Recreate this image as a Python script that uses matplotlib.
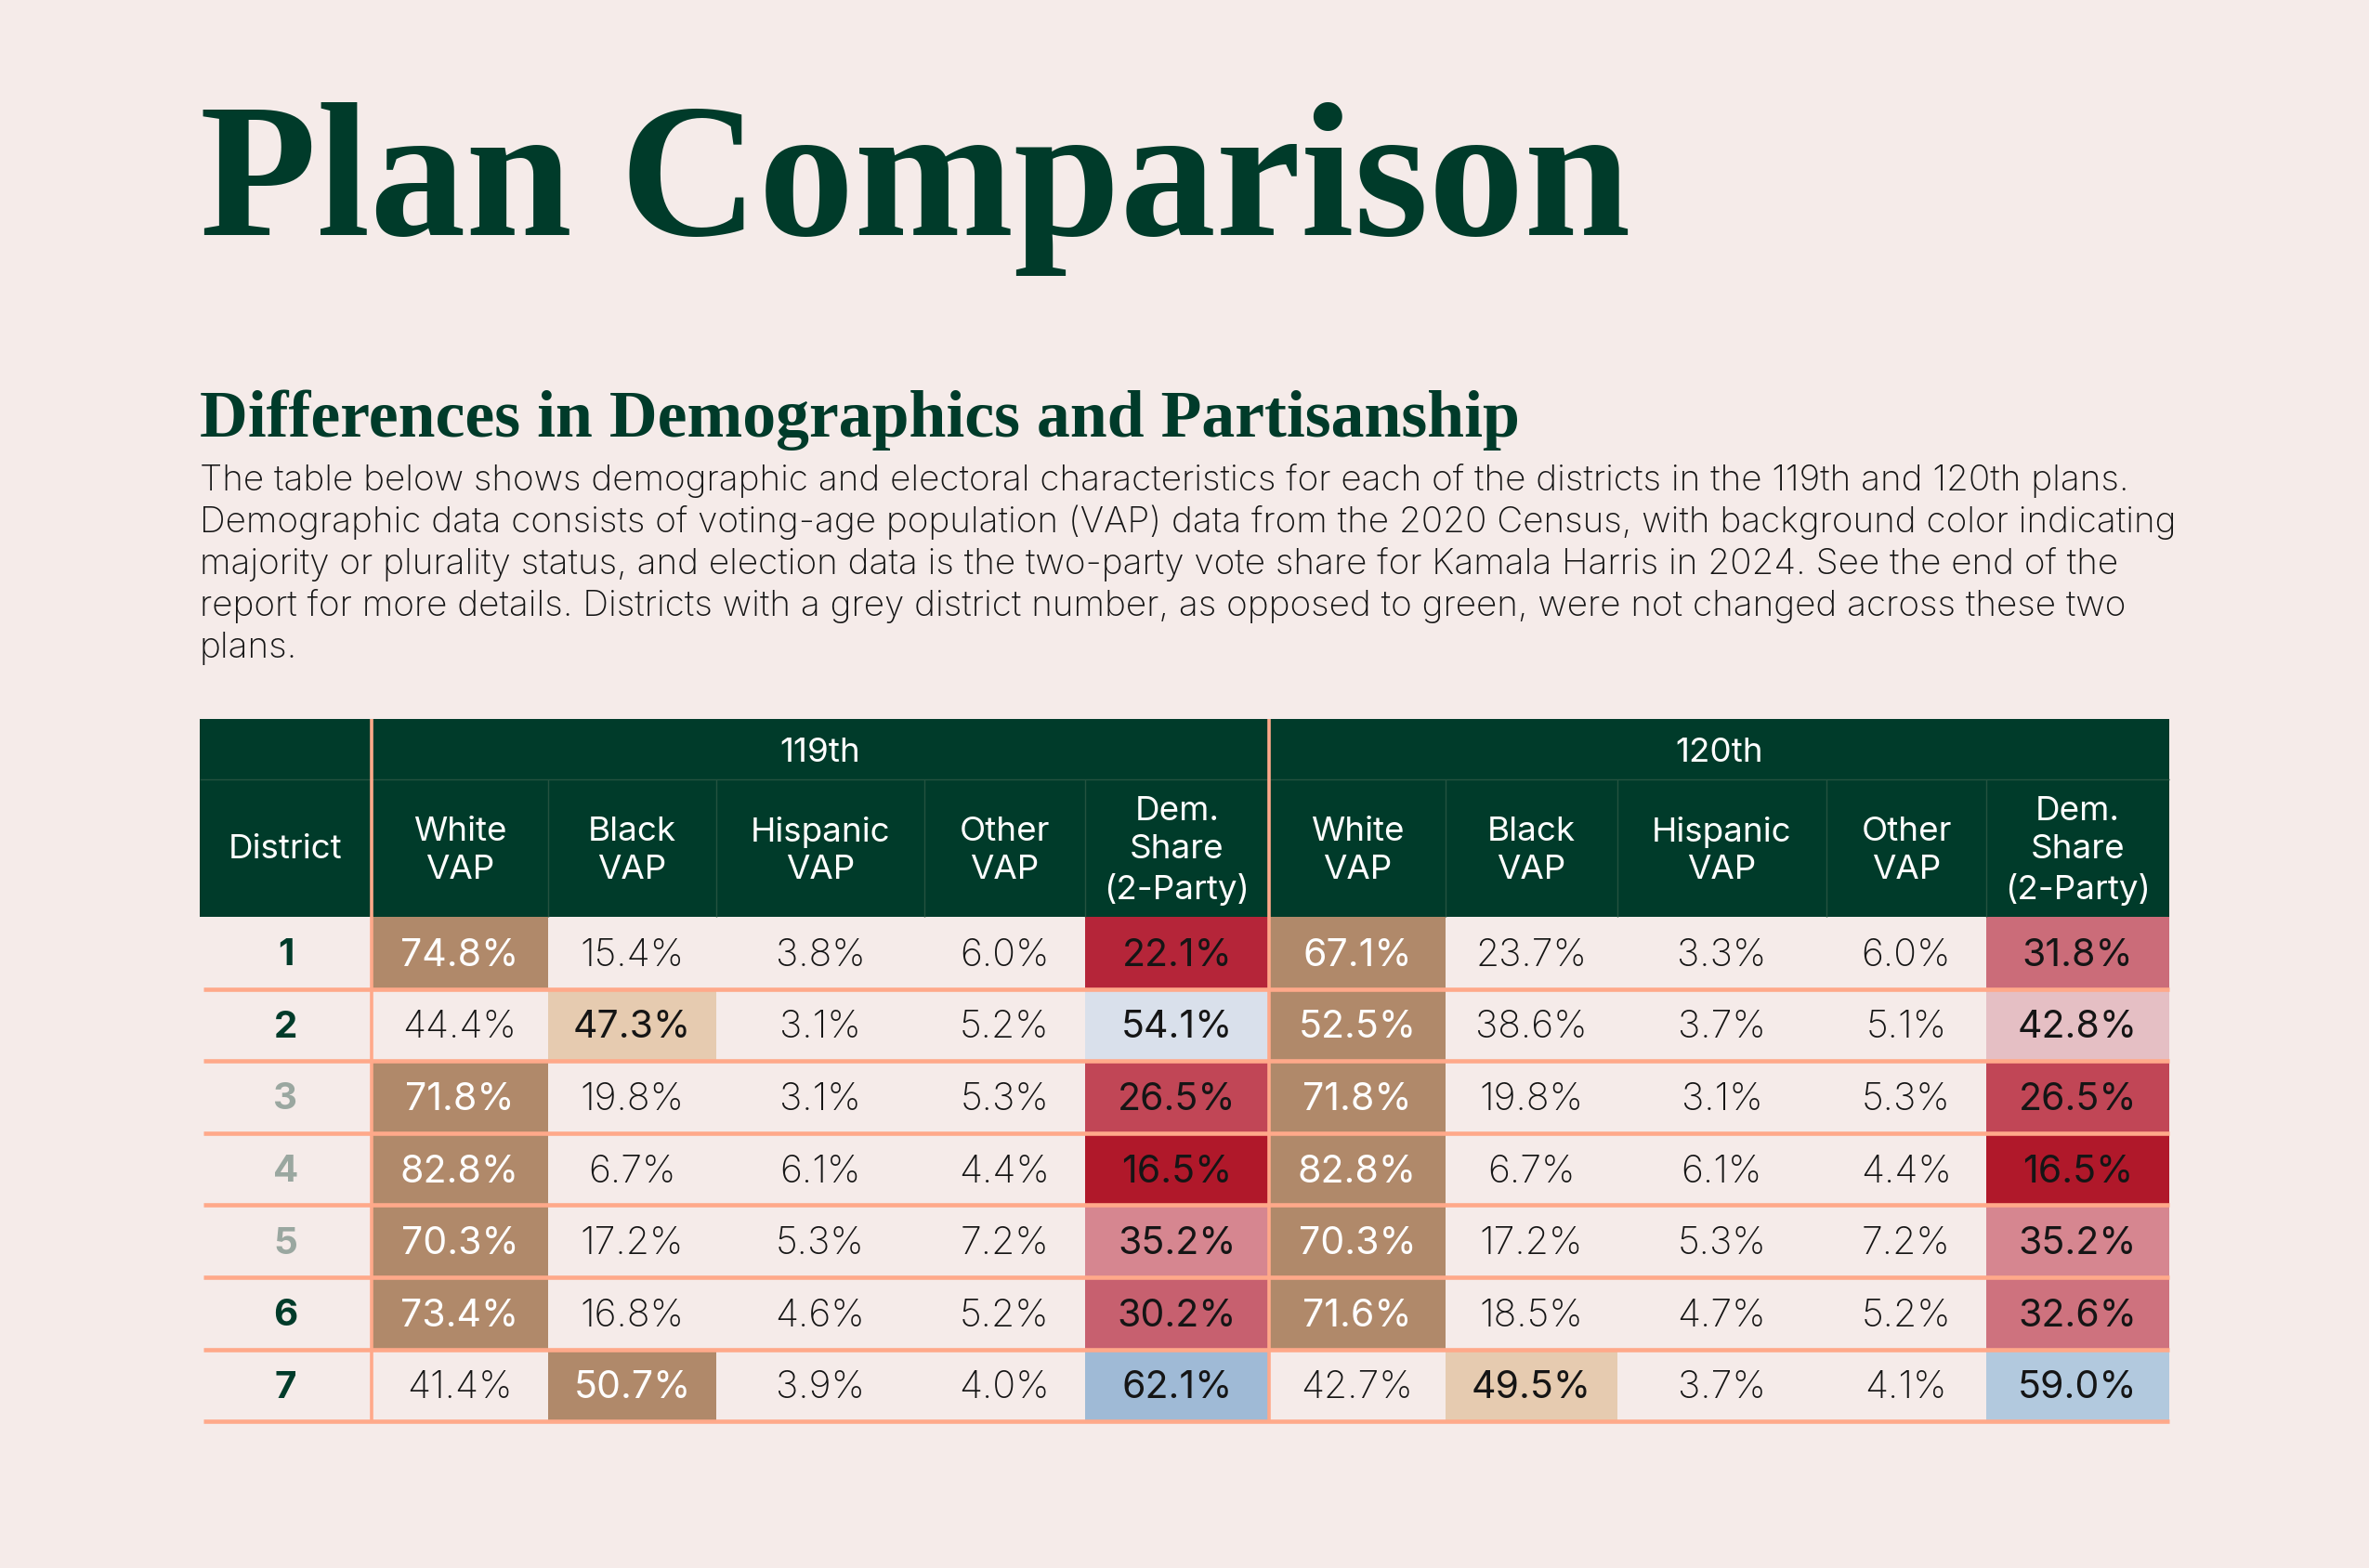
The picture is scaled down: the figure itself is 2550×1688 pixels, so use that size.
import matplotlib
matplotlib.use("Agg")
import matplotlib.pyplot as plt
from matplotlib.patches import Rectangle
from matplotlib.colors import LinearSegmentedColormap

# ---- data ----
districts = [1, 2, 3, 4, 5, 6, 7]
plans = ["119th", "120th"]
col_labels = ["White\nVAP", "Black\nVAP", "Hispanic\nVAP", "Other\nVAP", "Dem.\nShare\n(2-Party)"]

white_119 = [74.8, 44.4, 71.8, 82.8, 70.3, 73.4, 41.4]
black_119 = [15.4, 47.3, 19.8, 6.7, 17.2, 16.8, 50.7]
hisp_119 = [3.8, 3.1, 3.1, 6.1, 5.3, 4.6, 3.9]
other_119 = [6.0, 5.2, 5.3, 4.4, 7.2, 5.2, 4.0]
dem_119 = [22.1, 54.1, 26.5, 16.5, 35.2, 30.2, 62.1]

white_120 = [67.1, 52.5, 71.8, 82.8, 70.3, 71.6, 42.7]
black_120 = [23.7, 38.6, 19.8, 6.7, 17.2, 18.5, 49.5]
hisp_120 = [3.3, 3.7, 3.1, 6.1, 5.3, 4.7, 3.7]
other_120 = [6.0, 5.1, 5.3, 4.4, 7.2, 5.2, 4.1]
dem_120 = [31.8, 42.8, 26.5, 16.5, 35.2, 32.6, 59.0]

title = "Plan Comparison"
subtitle = "Differences in Demographics and Partisanship"
body_lines = [
    "The table below shows demographic and electoral characteristics for each of the districts in the 119th and 120th plans.",
    "Demographic data consists of voting-age population (VAP) data from the 2020 Census, with background color indicating",
    "majority or plurality status, and election data is the two-party vote share for Kamala Harris in 2024. See the end of the",
    "report for more details. Districts with a grey district number, as opposed to green, were not changed across these two",
    "plans.",
]

# ---- style ----
BG = "#F5EBE9"
GREEN = "#003B2A"
GREEN_LINE = "#24523F"
SALMON = "#FFA98A"
BROWN = "#B0896A"
TAN = "#E6CBB0"
GREY_NUM = "#9AA7A0"
TEXT = "#151515"
SERIF = ["Liberation Serif", "DejaVu Serif"]
SANS = ["Inter", "Lato", "DejaVu Sans"]

dem_cmap = LinearSegmentedColormap.from_list("dem", [
    (0.00, "#A00D25"), (0.165, "#B0182A"), (0.22, "#B52539"), (0.265, "#C24858"),
    (0.30, "#C65F6E"), (0.35, "#D5848E"), (0.43, "#E6C1C6"), (0.50, "#EEE6EA"),
    (0.54, "#DAE1EB"), (0.59, "#B4CADF"), (0.62, "#9FBAD6"), (1.00, "#2E5E9A"),
])

W, H = 2550, 1688
fig = plt.figure(figsize=(W / 100, H / 100), dpi=100, facecolor=BG)
ax = fig.add_axes([0, 0, 1, 1])
ax.set_xlim(0, W)
ax.set_ylim(H, 0)
ax.axis("off")
ax.set_facecolor(BG)


def fit_width(txt, target):
    fig.canvas.draw()
    bb = txt.get_window_extent(fig.canvas.get_renderer())
    txt.set_fontsize(txt.get_fontsize() * target / bb.width)


LEFT = 215
t = ax.text(LEFT, 253, title, family=SERIF, weight="bold", color=GREEN, fontsize=148, va="baseline")
fit_width(t, 1540)
s = ax.text(LEFT, 470, subtitle, family=SERIF, weight="bold", color=GREEN, fontsize=50, va="baseline")
fit_width(s, 1422)
body = []
for i, line in enumerate(body_lines):
    body.append(ax.text(LEFT, 528 + 45 * i, line, family=SANS, weight="light", color=TEXT,
                        fontsize=24, va="baseline"))
fit_width(body[0], 2075)
for b in body[1:]:
    b.set_fontsize(body[0].get_fontsize())

# ---- table geometry ----
col_widths = [185, 190, 181, 224, 173, 198, 190, 185, 225, 172, 197]
edges = [LEFT]
for w in col_widths:
    edges.append(edges[-1] + w)
top = 774
group_h = 65
head_bot = 987
row_h = 77.6
right = edges[-1]
sub_mid = (top + group_h + head_bot) / 2

groups = [
    [white_119, black_119, hisp_119, other_119, dem_119],
    [white_120, black_120, hisp_120, other_120, dem_120],
]

# header
ax.add_patch(Rectangle((LEFT, top), right - LEFT, head_bot - top, color=GREEN, lw=0, zorder=1))
ax.hlines(top + group_h, LEFT, right, color=GREEN_LINE, lw=1, zorder=2)
ax.text((edges[0] + edges[1]) / 2, sub_mid + 2, "District", family=SANS, color="white",
        fontsize=26.5, ha="center", va="center", zorder=3)
for g, plan in enumerate(plans):
    c0 = 1 + g * 5
    ax.text((edges[c0] + edges[c0 + 5]) / 2, top + group_h / 2 + 4, plan, family=SANS, color="white",
            fontsize=26.5, ha="center", va="center", zorder=3)
    for k, lab in enumerate(col_labels):
        c = c0 + k
        if k > 0:
            ax.vlines(edges[c], top + group_h, head_bot, color=GREEN_LINE, lw=1, zorder=2)
        ax.text((edges[c] + edges[c + 1]) / 2, sub_mid + 3, lab, family=SANS,
                color="white", fontsize=26.5, ha="center", va="center", linespacing=1.3, zorder=3)

# body
for r, d in enumerate(districts):
    y0 = head_bot + r * row_h
    yc = y0 + row_h / 2 + 3
    changed = any(col[r] != groups[1][k][r] for k, col in enumerate(groups[0]))
    ax.text((edges[0] + edges[1]) / 2, yc, str(d), family=SANS, weight="bold",
            color=GREEN if changed else GREY_NUM, fontsize=29, ha="center", va="center", zorder=3)
    for g, cols in enumerate(groups):
        demo = [col[r] for col in cols[:4]]
        top_val = max(demo)
        for k, col in enumerate(cols):
            c = 1 + g * 5 + k
            v = col[r]
            fill = None
            tcolor = TEXT
            weight = "light"
            if k < 4 and v == top_val:
                fill = BROWN if v > 50 else TAN
                tcolor = "white" if v > 50 else TEXT
                weight = "normal"
            elif k == 4:
                fill = dem_cmap(v / 100)
                weight = "normal"
            if fill is not None:
                ax.add_patch(Rectangle((edges[c], y0), edges[c + 1] - edges[c], row_h,
                                       color=fill, lw=0, zorder=1))
            ax.text((edges[c] + edges[c + 1]) / 2, yc, f"{v:.1f}%", family=SANS, weight=weight,
                    color=tcolor, fontsize=29.5, ha="center", va="center", zorder=3)
    ax.hlines(y0 + row_h, LEFT + 4, right, color=SALMON, lw=3.3, zorder=2)

bottom = head_bot + len(districts) * row_h
for c in (1, 6):
    ax.vlines(edges[c], top, bottom + 2, color=SALMON, lw=2.6, zorder=2)

fig.savefig("out.png", dpi=100, facecolor=BG)
